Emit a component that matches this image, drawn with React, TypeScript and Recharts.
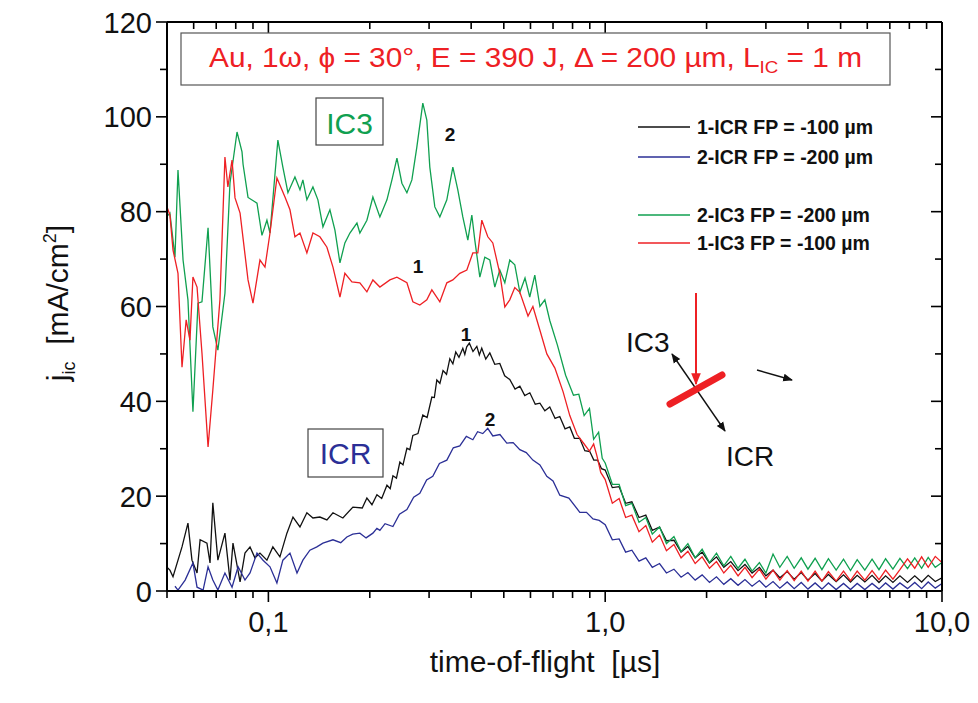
import React from 'react';
import { LineChart, Line, XAxis, YAxis } from 'recharts';

// ---------- data (time in µs, current density in mA/cm²) ----------
const icr1Head: [number, number][] = [
  [0.05, 5], [0.051, 4.4], [0.0521, 3], [0.0554, 9.3], [0.0577, 14.3], [0.0593, 6.5], [0.0614, 3.8],
  [0.0627, 10.8], [0.0657, 10.1], [0.0671, 5.9], [0.0684, 18.6], [0.0708, 6.5], [0.0743, 12.2],
  [0.0769, 2.3], [0.0785, 10.1], [0.0824, 1.9], [0.0852, 8], [0.0882, 9.3], [0.0912, 7], [0.0944, 8],
  [0.099, 6.5], [0.1031, 9.3], [0.1082, 7.2], [0.1135, 12.2], [0.1183, 15.6], [0.1241, 13.5],
  [0.1301, 16.5], [0.1356, 15.4], [0.1422, 15.6], [0.1492, 15], [0.1555, 16.5], [0.1664, 15.4],
  [0.1782, 17.7], [0.19, 17.5], [0.1961, 19.6], [0.203, 18.2], [0.21, 20.3], [0.217, 19.5], [0.2249, 22.3],
  [0.23, 21.6], [0.2343, 24.3], [0.24, 23.8], [0.2457, 27.2], [0.251, 26.6], [0.2578, 30.1], [0.263, 29.8],
  [0.2685, 32.8], [0.278, 33.2], [0.2874, 37.1], [0.296, 36.6], [0.3057, 40.9], [0.311, 40.8], [0.3163, 44.5],
  [0.323, 43.8], [0.33, 46.5], [0.338, 45.7], [0.3457, 49], [0.353, 47.9], [0.36, 50.4], [0.368, 49.3],
  [0.3778, 51.2], [0.383, 49.9], [0.388, 51.5], [0.395, 52.3], [0.405, 50.5], [0.4158, 51.6], [0.423, 49.8],
  [0.43, 51.2], [0.442, 48.9], [0.4544, 50.2], [0.47, 47.8], [0.4865, 48], [0.503, 45.4], [0.5208, 44.6],
  [0.54, 42.6], [0.558, 43.2], [0.577, 41.2], [0.5974, 41.8], [0.62, 39.4], [0.64, 39.6], [0.662, 38],
  [0.6846, 38.8], [0.71, 36.4], [0.733, 36.8], [0.76, 34.2], [0.7852, 34.6], [0.81, 32.2], [0.84, 32.2],
  [0.87, 29.6], [0.9, 29.4], [0.925, 27.6], [0.95, 27.6], [0.975, 25.8],
];
const icr2Head: [number, number][] = [
  [0.0528, 1], [0.0539, 0.2], [0.0566, 2.3], [0.0597, 5.9], [0.0614, 0.8], [0.064, 0.2], [0.0662, 5.1],
  [0.0684, 2.3], [0.0708, 0.2], [0.0743, 3.8], [0.078, 0.8], [0.0813, 5.1], [0.0852, 2.3], [0.0882, 3.8],
  [0.0925, 8], [0.0964, 6.5], [0.1011, 5.1], [0.106, 1.7], [0.1104, 6.5], [0.1159, 8], [0.1216, 3.8],
  [0.1266, 6.5], [0.1328, 8.6], [0.1393, 9.3], [0.1452, 10.1], [0.1555, 10.8], [0.164, 10.2],
  [0.171, 11.4], [0.178, 12], [0.1869, 12.2], [0.195, 11.2], [0.2043, 12.2], [0.21, 13.2], [0.2143, 12.8],
  [0.222, 14.2], [0.2343, 13.6], [0.245, 16.2], [0.2578, 17.2], [0.27, 19.8], [0.2816, 20.6], [0.295, 23.4],
  [0.3077, 24.2], [0.322, 26.9], [0.3387, 27.6], [0.354, 30.2], [0.3701, 30.6], [0.387, 32.6], [0.4046, 31.9],
  [0.418, 33.6], [0.4331, 33.2], [0.448, 34.3], [0.4638, 32.7], [0.487, 33], [0.5103, 31.2], [0.533, 31.3],
  [0.5578, 29.8], [0.583, 29.2], [0.6099, 27.6], [0.64, 26.6], [0.6708, 24.2], [0.7, 23.2], [0.7333, 20.2],
  [0.78, 19.6], [0.8407, 16.6], [0.88, 16.6], [0.92, 15.2], [0.96, 14.9],
];
const ic3_2Head: [number, number][] = [
  [0.05, 79], [0.051, 79.7], [0.0528, 70.4], [0.0539, 88.8], [0.0558, 69.8], [0.0577, 61.4], [0.0597, 37.8],
  [0.0618, 60.7], [0.0635, 61], [0.0662, 76.6], [0.0684, 55.7], [0.0708, 50.8], [0.0743, 62.8], [0.0769, 86],
  [0.0807, 96.8], [0.0835, 92.6], [0.0841, 90], [0.087, 83], [0.0925, 81.8], [0.0957, 75], [0.099, 78.2],
  [0.1011, 75.5], [0.1067, 95.1], [0.1104, 89.4], [0.1143, 84], [0.1199, 87.3], [0.1241, 84.6], [0.1266, 86.7],
  [0.1301, 82.5], [0.1356, 85.2], [0.1403, 82.5], [0.1452, 76.8], [0.1523, 80.4], [0.1576, 76.1], [0.1631, 69.2],
  [0.1687, 73.4], [0.1746, 75.5], [0.1832, 77.6], [0.1869, 75.5], [0.1961, 78.2], [0.2043, 83.1], [0.2143, 78.9],
  [0.2249, 82.5], [0.2327, 86.7], [0.2408, 91.3], [0.2491, 86], [0.2578, 84], [0.2667, 86.7], [0.2759, 93.6],
  [0.2874, 102.9], [0.2954, 99.3], [0.3015, 89.4], [0.312, 81], [0.3229, 78.9], [0.3387, 82.5], [0.3529, 89.4],
  [0.3651, 84.6], [0.3778, 78.9], [0.391, 74], [0.4018, 79.3], [0.4101, 74], [0.4244, 66.2], [0.4391, 70.4],
  [0.4544, 69.8], [0.4702, 64.1], [0.4865, 67.7], [0.5035, 65], [0.5208, 69.8], [0.539, 68.8], [0.558, 63],
  [0.578, 66], [0.597, 62], [0.618, 66.6], [0.64, 60], [0.662, 61.4], [0.685, 57], [0.721, 51.9], [0.763, 45.5],
  [0.805, 41.3], [0.835, 41.5], [0.866, 37], [0.898, 38.5], [0.924, 32], [0.956, 33.5], [0.98, 28],
];
const ic3_1Head: [number, number][] = [
  [0.05, 81], [0.051, 79.3], [0.0521, 71.9], [0.0539, 67], [0.0554, 47.2], [0.057, 57.2], [0.0585, 52.9],
  [0.0597, 66.2], [0.0614, 64.1], [0.0635, 50.2], [0.0662, 30.4], [0.0684, 42.4], [0.0718, 61.4], [0.0743, 91.5],
  [0.0758, 85.2], [0.078, 90.9], [0.0796, 82.9], [0.0824, 79.7], [0.087, 65.6], [0.09, 60.7], [0.0944, 69.8],
  [0.0977, 68.3], [0.1011, 75.5], [0.106, 87.1], [0.112, 83.1], [0.1159, 80.4], [0.1199, 74.7], [0.1241, 75.5],
  [0.1301, 71.3], [0.1356, 75.5], [0.1422, 74.7], [0.1492, 72.5], [0.1555, 68.3], [0.1631, 62], [0.1687, 67],
  [0.177, 65.2], [0.1869, 65], [0.1961, 63.1], [0.2043, 65.6], [0.2143, 64.1], [0.2295, 65.6], [0.2408, 66.2],
  [0.2578, 65], [0.2685, 61], [0.2816, 60.3], [0.2954, 61.4], [0.3057, 63.5], [0.3229, 61], [0.3387, 65],
  [0.3529, 65.6], [0.3701, 67], [0.3883, 67.7], [0.4046, 71.3], [0.4186, 71.3], [0.4302, 78.2], [0.4482, 74.7],
  [0.4638, 73.4], [0.4865, 67], [0.5035, 59.9], [0.5208, 61.4], [0.539, 64], [0.558, 63], [0.59, 58], [0.61, 60],
  [0.64, 55], [0.671, 50], [0.709, 47], [0.75, 42], [0.785, 37], [0.825, 33], [0.866, 31], [0.898, 29.5],
  [0.924, 31], [0.945, 28.5], [0.97, 25],
];

const tailT = [
  1.0, 1.05, 1.1, 1.15, 1.2, 1.26, 1.32, 1.38, 1.45, 1.52, 1.6, 1.68, 1.76, 1.85, 1.94, 2.04, 2.14, 2.25, 2.36, 2.48,
  2.6, 2.73, 2.87, 3.0, 3.15, 3.3, 3.47, 3.64, 3.82, 4.0, 4.2, 4.4, 4.6, 4.85, 5.1, 5.35, 5.6, 5.9, 6.2, 6.5,
  6.8, 7.15, 7.5, 7.9, 8.3, 8.7, 9.1, 9.55, 10.0,
];
const icr1Tail = [
  25.5, 21.8, 22, 18.5, 18.8, 15.5, 16, 12.8, 13.5, 10.6, 10.7, 8.2, 9.4, 7, 8.2, 5.9, 7.2, 5, 6.2, 4.3,
  5.6, 3.8, 5, 3.2, 4.4, 2.8, 4.1, 2.5, 3.9, 2.3, 3.7, 2.1, 3.5, 2, 3.4, 1.9, 3.3, 1.9, 3.3, 1.8,
  3.2, 1.8, 3.2, 1.8, 3.2, 1.9, 3.3, 2, 2.8,
];
const icr2Tail = [
  14, 10.8, 11, 8.2, 8.6, 6.3, 7, 5, 5.8, 3.8, 4.6, 2.9, 3.9, 2.3, 3.4, 1.8, 3, 1.4, 2.6, 1.2,
  2.4, 1, 2.2, 0.8, 2, 0.6, 1.9, 0.5, 1.8, 0.4, 1.7, 0.4, 1.7, 0.3, 1.6, 0.3, 1.6, 0.3, 1.6, 0.4,
  1.7, 0.4, 1.7, 0.5, 1.8, 0.5, 1.9, 0.6, 1.6,
];
const ic3_2Tail = [
  27, 22.5, 22.5, 18, 18.5, 14.5, 15.5, 12, 13.5, 10, 11.5, 8.3, 10, 7, 8.8, 6, 8, 5.3, 7.3, 4.8,
  6.7, 4.2, 6, 3.8, 7.8, 5, 7.3, 4.8, 7, 4.6, 6.9, 4.5, 6.8, 4.4, 6.7, 4.3, 6.6, 4.4, 6.7, 4.5,
  6.8, 4.6, 6.9, 4.7, 7, 4.8, 7.1, 5, 6,
];
const ic3_1Tail = [
  23.5, 18.5, 19.5, 15.5, 16, 12.5, 13.8, 10.3, 11.8, 8.5, 9.8, 7, 8.4, 5.8, 7.2, 4.8, 6.2, 3.8, 5.4, 3.2,
  5, 2.8, 4.6, 2.5, 4.4, 2.3, 4.3, 2.2, 4.2, 2.1, 4.2, 2.1, 4.1, 2.1, 4.2, 2.2, 4.2, 2.3, 4.3, 2.4,
  4.4, 2.5, 4.5, 6.8, 4.8, 7.2, 5, 7.3, 6,
];

const xMajor = [0.1, 1, 10];
const xMajorLabels = ['0,1', '1,0', '10,0'];
const xTicks = [0.05, 0.06, 0.07, 0.08, 0.09, 0.1, 0.2, 0.3, 0.4, 0.5, 0.6, 0.7, 0.8, 0.9, 1, 2, 3, 4, 5, 6, 7, 8, 9, 10];
const yTicks = [0, 10, 20, 30, 40, 50, 60, 70, 80, 90, 100, 110, 120];

const legendItems = [
  { label: '1-ICR FP = -100 \u00b5m', color: '#111111' },
  { label: '2-ICR FP = -200 \u00b5m', color: '#2b2f96' },
  { label: '2-IC3 FP = -200 \u00b5m', color: '#10a050' },
  { label: '1-IC3 FP = -100 \u00b5m', color: '#ee2024' },
];

// ---------- helpers ----------
const build = (head: [number, number][], tail: number[]) => [
  ...head.map(([t, v]) => ({ t, v })),
  ...tailT.map((t, i) => ({ t, v: tail[i] })),
];
const dIcr1 = build(icr1Head, icr1Tail);
const dIcr2 = build(icr2Head, icr2Tail);
const dIc32 = build(ic3_2Head, ic3_2Tail);
const dIc31 = build(ic3_1Head, ic3_1Tail);

const F = "'Liberation Sans', Arial, Helvetica, sans-serif";
const isMajorX = (v: number) => xMajor.some((m) => Math.abs(m - v) < 1e-9);

const BottomTick = (p: any) => {
  const { x, y, payload } = p;
  const idx = xMajor.findIndex((m) => Math.abs(m - payload.value) < 1e-9);
  const major = idx >= 0;
  return (
    <g>
      <line x1={x} x2={x} y1={y} y2={y + (major ? 11 : 7)} stroke="#000" strokeWidth={1.6} />
      {major && (
        <text x={x} y={y + 41} textAnchor="middle" fontSize={29} fontFamily={F} fill="#111">
          {xMajorLabels[idx]}
        </text>
      )}
    </g>
  );
};
const TopTick = (p: any) => {
  const { x, y, payload } = p;
  const major = isMajorX(payload.value);
  return <line x1={x} x2={x} y1={y} y2={y + (major ? 11 : 7)} stroke="#000" strokeWidth={1.6} />;
};
const LeftTick = (p: any) => {
  const { x, y, payload } = p;
  const major = payload.value % 20 === 0;
  return (
    <g>
      <line x1={x - (major ? 11 : 7)} x2={x} y1={y} y2={y} stroke="#000" strokeWidth={1.6} />
      {major && (
        <text x={x - 15} y={y + 10.5} textAnchor="end" fontSize={29} fontFamily={F} fill="#111">
          {payload.value}
        </text>
      )}
    </g>
  );
};
const RightTick = (p: any) => {
  const { x, y, payload } = p;
  const major = payload.value % 20 === 0;
  return <line x1={x - (major ? 11 : 7)} x2={x} y1={y} y2={y} stroke="#000" strokeWidth={1.6} />;
};

const axisLine = { stroke: '#000', strokeWidth: 2 };
const NB = '\u00a0';

export default function App() {
  return (
    <div style={{ position: 'absolute', left: 0, top: 0, width: 978, height: 703, background: '#fff', fontFamily: F }}>
      <LineChart width={978} height={703} margin={{ top: 21, right: 35, bottom: 52, left: 117 }}>
        <XAxis
          xAxisId="b" dataKey="t" type="number" scale="log" domain={[0.05, 10]} allowDataOverflow
          ticks={xTicks} interval={0} tick={(p: any) => <BottomTick {...p} />} tickLine={false}
          tickSize={0} tickMargin={0} axisLine={axisLine} height={60}
        />
        <XAxis
          xAxisId="t" orientation="top" dataKey="t" type="number" scale="log" domain={[0.05, 10]} allowDataOverflow
          ticks={xTicks} interval={0} tick={(p: any) => <TopTick {...p} />} tickLine={false}
          tickSize={0} tickMargin={0} axisLine={axisLine} height={1}
        />
        <YAxis
          yAxisId="l" type="number" domain={[0, 120]} allowDataOverflow ticks={yTicks} interval={0}
          tick={(p: any) => <LeftTick {...p} />} tickLine={false} tickSize={0} tickMargin={0}
          axisLine={axisLine} width={50}
        />
        <YAxis
          yAxisId="r" orientation="right" type="number" domain={[0, 120]} allowDataOverflow ticks={yTicks}
          interval={0} tick={(p: any) => <RightTick {...p} />} tickLine={false} tickSize={0} tickMargin={0}
          axisLine={axisLine} width={1}
        />
        <Line xAxisId="b" yAxisId="l" data={dIcr1} dataKey="v" type="linear" stroke="#111111" strokeWidth={1.3} dot={false} isAnimationActive={false} />
        <Line xAxisId="b" yAxisId="l" data={dIcr2} dataKey="v" type="linear" stroke="#2b2f96" strokeWidth={1.3} dot={false} isAnimationActive={false} />
        <Line xAxisId="b" yAxisId="l" data={dIc32} dataKey="v" type="linear" stroke="#10a050" strokeWidth={1.3} dot={false} isAnimationActive={false} />
        <Line xAxisId="b" yAxisId="l" data={dIc31} dataKey="v" type="linear" stroke="#ee2024" strokeWidth={1.3} dot={false} isAnimationActive={false} />
      </LineChart>

      <svg width={978} height={703} style={{ position: 'absolute', left: 0, top: 0, pointerEvents: 'none' }}>
        <defs>
          <marker id="ahK" viewBox="0 0 10 10" refX="9" refY="5" markerWidth="7" markerHeight="7" orient="auto-start-reverse">
            <path d="M0,1 L10,5 L0,9 z" fill="#111" />
          </marker>
          <marker id="ahR" viewBox="0 0 10 10" refX="9" refY="5" markerWidth="6" markerHeight="6" orient="auto-start-reverse">
            <path d="M0,1 L10,5 L0,9 z" fill="#ee2024" />
          </marker>
        </defs>

        {/* axis titles */}
        <text x={545} y={672} textAnchor="middle" fontSize={30} fontFamily={F} fill="#111">
          {`time-of-flight${NB}${NB}[µs]`}
        </text>
        <text transform="translate(68,303) rotate(-90)" textAnchor="middle" fontSize={30} fontFamily={F} fill="#111">
          j<tspan fontSize={18} dy={7}>ic</tspan>
          <tspan dy={-7}>{`${NB}${NB}[mA/cm`}</tspan>
          <tspan fontSize={18} dy={-12}>2</tspan>
          <tspan dy={12}>]</tspan>
        </text>

        {/* title box */}
        <rect x={181} y={33} width={709} height={52} fill="#fff" stroke="#555" strokeWidth={1.2} />
        <text x={209} y={67} fontSize={27} fontFamily={F} fill="#ee2024" textLength={653} lengthAdjust="spacingAndGlyphs">
          Au, 1ω, ϕ = 30°, E = 390 J, Δ = 200 µm, L<tspan fontSize={17} dy={6}>IC</tspan>
          <tspan dy={-6}> = 1 m</tspan>
        </text>

        {/* series boxes */}
        <rect x={316} y={98} width={67} height={47} fill="none" stroke="#444" strokeWidth={1.2} />
        <text x={349.5} y={134} textAnchor="middle" fontSize={30} fontFamily={F} fill="#10a050">IC3</text>
        <rect x={308} y={429} width={75} height={48} fill="none" stroke="#444" strokeWidth={1.2} />
        <text x={345.5} y={464} textAnchor="middle" fontSize={30} fontFamily={F} fill="#2b2f96">ICR</text>

        {/* curve numbers */}
        <text x={450} y={141} textAnchor="middle" fontSize={19} fontWeight="bold" fontFamily={F} fill="#111">2</text>
        <text x={418} y={273} textAnchor="middle" fontSize={19} fontWeight="bold" fontFamily={F} fill="#111">1</text>
        <text x={466} y={341} textAnchor="middle" fontSize={19} fontWeight="bold" fontFamily={F} fill="#111">1</text>
        <text x={490} y={426} textAnchor="middle" fontSize={19} fontWeight="bold" fontFamily={F} fill="#111">2</text>

        {/* legend */}
        {legendItems.map((it, i) => {
          const cy = [127, 157, 215, 243][i];
          return (
            <g key={it.label}>
              <line x1={638} x2={690} y1={cy} y2={cy} stroke={it.color} strokeWidth={1.3} />
              <text x={697} y={cy + 7} fontSize={19.5} fontWeight="bold" fontFamily={F} fill="#111">{it.label}</text>
            </g>
          );
        })}

        {/* geometry sketch */}
        <line x1={696} y1={293} x2={696} y2={384} stroke="#ee2024" strokeWidth={2} markerEnd="url(#ahR)" />
        <line x1={672} y1={354} x2={725} y2={431} stroke="#111" strokeWidth={1.4} markerStart="url(#ahK)" markerEnd="url(#ahK)" />
        <line x1={670} y1={404} x2={722} y2={375} stroke="#ee2024" strokeWidth={7} strokeLinecap="round" />
        <line x1={757} y1={370} x2={792} y2={380} stroke="#111" strokeWidth={1.4} markerEnd="url(#ahK)" />
        <text x={626} y={352} fontSize={28} fontFamily={F} fill="#111">IC3</text>
        <text x={726} y={466} fontSize={28} fontFamily={F} fill="#111">ICR</text>
      </svg>
    </div>
  );
}
